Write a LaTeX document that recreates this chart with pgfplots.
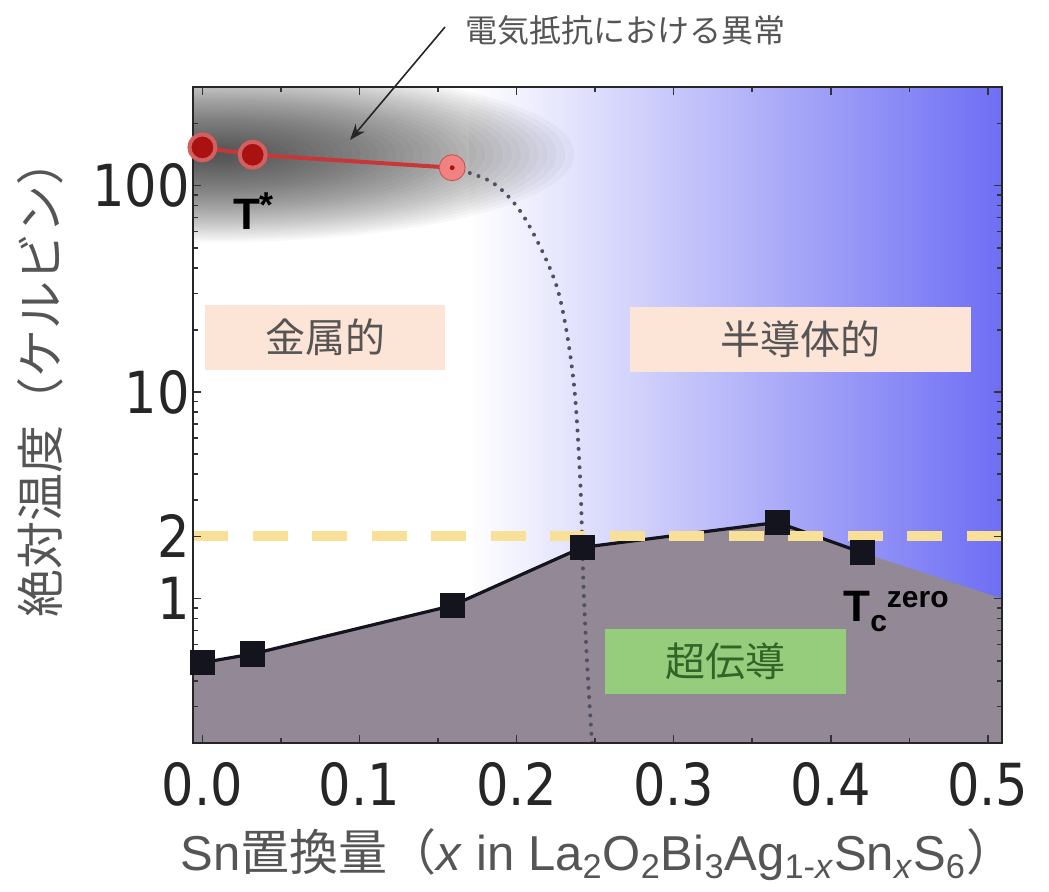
\documentclass[border=0pt]{standalone}
\usepackage{pgfplots}
\pgfplotsset{compat=1.18}
\usepackage{fontspec}
\setmainfont{Liberation Sans}
\newfontfamily\cjk{Noto Sans CJK JP}
\newfontfamily\tickfont[FakeStretch=0.88]{DejaVu Sans}
\usetikzlibrary{arrows.meta}

\definecolor{bluebg}{RGB}{110,110,244}
\definecolor{scgrey}{RGB}{146,136,150}
\definecolor{pinkbox}{RGB}{252,228,214}
\definecolor{greenbox}{RGB}{150,205,125}
\definecolor{greentext}{RGB}{50,100,40}
\definecolor{labeltext}{RGB}{85,85,85}
\definecolor{tcline}{RGB}{20,20,30}
\definecolor{tstarline}{RGB}{200,55,55}
\definecolor{tstarfill}{RGB}{170,18,18}
\definecolor{tstarlight}{RGB}{240,130,130}
\definecolor{dashyellow}{RGB}{248,224,152}
\definecolor{dotgrey}{RGB}{80,80,100}

\begin{document}
\begin{tikzpicture}
\useasboundingbox (0,0) rectangle (524.5pt,445.5pt);
\begin{axis}[
  at={(96.5pt,74pt)}, anchor=south west,
  scale only axis, width=404.5pt, height=328pt,
  xmin=-0.006, xmax=0.509, ymin=0.2, ymax=300, ymode=log,
  xtick={0,0.1,0.2,0.3,0.4,0.5},
  xticklabels={0.0,0.1,0.2,0.3,0.4,0.5},
  minor xtick={0.05,0.15,0.25,0.35,0.45},
  ytick={1,2,10,100}, yticklabels={1,2,10,100},
  minor ytick={0.3,0.4,0.5,0.6,0.7,0.8,0.9,3,4,5,6,7,8,9,20,30,40,50,60,70,80,90,200},
  tick align=inside, major tick length=4pt, minor tick length=2.5pt,
  tick style={black!80, line width=0.8pt},
  axis line style={black!85, line width=1.2pt},
  /pgf/number format/assume math mode=true,
  ticklabel style={font=\tickfont\fontsize{29}{29}\selectfont, text=black!85},
  xticklabel style={yshift=-6pt},
  yticklabel style={inner xsep=1.5pt},
  axis on top,
]
% semiconducting background: white fading into blue towards high Sn content
\fill[left color=white, right color=bluebg] (axis cs:0.17,0.2) rectangle (axis cs:0.509,300);

% diffuse dark cloud around the resistivity anomaly
\pgfplotsinvokeforeach{1,...,40}{
  \fill[black, opacity=0.026] (axis cs:0.01,142) ellipse ({178pt*#1/40} and {44pt*#1/40});
}

% superconducting region below Tc(zero)
\addplot[fill=scgrey, draw=none] coordinates {
  (-0.006,0.2) (-0.006,0.48) (0,0.49) (0.032,0.54) (0.159,0.925)
  (0.2417,1.77) (0.366,2.34) (0.42,1.67) (0.509,1.0) (0.509,0.2)
};

% region labels
\node[fill=pinkbox, minimum width=120pt, minimum height=32.5pt, inner sep=0pt,
      font=\cjk\fontsize{20}{20}\selectfont, text=labeltext]
  at (axis cs:0.0782,18.4) {金属的};
\node[fill=pinkbox, minimum width=170.5pt, minimum height=32.5pt, inner sep=0pt,
      font=\cjk\fontsize{20}{20}\selectfont, text=labeltext]
  at (axis cs:0.3807,18.0) {半導体的};
\node[fill=greenbox, minimum width=120.5pt, minimum height=32.5pt, inner sep=0pt,
      font=\cjk\fontsize{20}{20}\selectfont, text=greentext]
  at (axis cs:0.333,0.497) {超伝導};

% crossover guide between the two regimes
\addplot[dotgrey, line width=2pt, line cap=round, dash pattern=on 0pt off 4.6pt,
         smooth, tension=0.5] coordinates {
  (0.159,122) (0.185,103) (0.205,70) (0.2258,32) (0.236,11.8)
  (0.2405,3.74) (0.2425,1.2) (0.2448,0.5) (0.248,0.2)
};

% Tc(zero)
\addplot[tcline, line width=1.6pt, mark=square*, mark size=5.5pt,
         mark options={fill=tcline, draw=tcline}] coordinates {
  (0,0.49) (0.032,0.54) (0.159,0.925) (0.2417,1.77) (0.366,2.34) (0.42,1.67)
};

% 2 K reference level
\addplot[dashyellow, line width=5pt, dash pattern=on 17.5pt off 12.25pt]
  coordinates {(-0.006,2) (0.509,2)};

% T*
\addplot[tstarline, line width=2pt, mark=*, mark size=6.5pt,
         mark options={fill=tstarfill, draw=tstarline!80}] coordinates {
  (0,153) (0.032,141)
};
\addplot[tstarline, line width=2pt] coordinates {(0.032,141) (0.159,122)};
\addplot[only marks, mark=*, mark size=6.5pt,
         mark options={fill=tstarlight, draw=tstarline!90}] coordinates {(0.159,122)};
\addplot[only marks, mark=*, mark size=1pt, mark options={fill=tstarfill, draw=tstarfill}]
  coordinates {(0.159,122)};

% curve labels
\node[font=\bfseries\fontsize{22}{22}\selectfont, anchor=center]
  at (axis cs:0.0325,74.8) {T\raisebox{6pt}{\fontsize{18}{18}\selectfont *}};
\node[font=\bfseries\fontsize{22}{22}\selectfont, anchor=west, inner sep=0pt]
  at (axis cs:0.4078,0.865)
  {T\raisebox{-5pt}{\fontsize{15}{15}\selectfont c}\raisebox{7pt}{\fontsize{15}{15}\selectfont zero}};
\end{axis}

% axis titles
\node[rotate=90, text=labeltext, font=\cjk\fontsize{24}{24}\selectfont]
  at (20pt,257pt) {絶対温度（ケルビン）};
\node[text=labeltext, font=\fontsize{24.5}{24.5}\selectfont]
  at (299pt,18pt) {Sn{\cjk 置換量（}\textit{x} in La\textsubscript{2}O\textsubscript{2}Bi\textsubscript{3}Ag\textsubscript{1-\textit{x}}Sn\textsubscript{\textit{x}}S\textsubscript{6}{\cjk ）}};

% annotation of the resistivity anomaly
\node[text=labeltext, font=\cjk\fontsize{16}{16}\selectfont] at (312.5pt,430.5pt) {電気抵抗における異常};
\draw[black!85, line width=0.8pt, -{Stealth[length=8pt,width=6pt]}] (222.5pt,432pt) -- (175pt,375.5pt);
\end{tikzpicture}
\end{document}
